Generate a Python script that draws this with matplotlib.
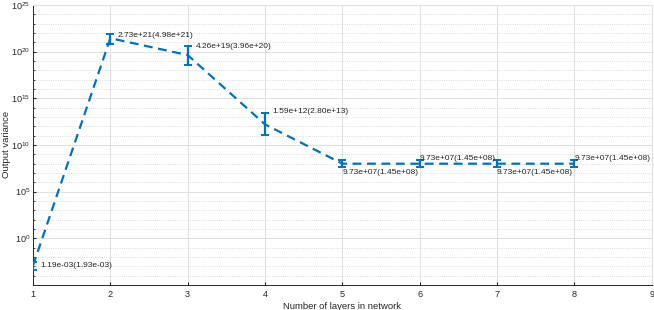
import matplotlib.pyplot as plt
import numpy as np
from matplotlib.ticker import FixedLocator, NullFormatter

plt.rcParams['font.family'] = ['Liberation Sans', 'DejaVu Sans']

layers = [1, 2, 3, 4, 5, 6, 7, 8]
mean_var = [1.19e-03, 2.73e+21, 4.26e+19, 1.59e+12, 9.73e+07, 9.73e+07, 9.73e+07, 9.73e+07]
std_var = [1.93e-03, 4.98e+21, 3.96e+20, 2.80e+13, 1.45e+08, 1.45e+08, 1.45e+08, 1.45e+08]
# lower ends of the bars as drawn
low_var = [3.7e-04, 7.2e+20, 4.0e+18, 1.2e+11, 4.0e+07, 4.0e+07, 4.0e+07, 4.0e+07]

blue = '#0072BD'

fig = plt.figure(figsize=(6.54, 3.10), dpi=100)
ax = fig.add_axes([0.0505, 0.081, 0.946, 0.903])

mean = np.array(mean_var)
upper = mean + np.array(std_var)
lower = np.array(low_var)
yerr = [mean - lower, upper - mean]

ax.errorbar(layers, mean, yerr=yerr, color=blue, linestyle='--', linewidth=1.6,
            dashes=(4, 2.5), elinewidth=1.6, capsize=2.8, capthick=1.4, zorder=3)

# label offsets in points (dx, dy)
offsets = [(5.5, 0), (5.5, 2), (5.5, 6), (5.5, 9), (0, -6.5), (0, 4), (0, -6.5), (0, 4)]
for x, m, s, (dx, dy) in zip(layers, mean_var, std_var, offsets):
    ax.annotate(f"{m:.2e}({s:.2e})", (x, m), xytext=(dx, dy), textcoords='offset points',
                fontsize=6.0, color='#262626', va='center', ha='left')

ax.set_yscale('log')
ax.set_xlim(1, 9)
ax.set_ylim(1e-5, 1e25)
ax.set_xticks(range(1, 10))
ax.yaxis.set_major_locator(FixedLocator([10.0**k for k in range(0, 26, 5)]))
ax.yaxis.set_minor_locator(FixedLocator([10.0**k for k in range(-5, 26) if k % 5 != 0]))
ax.yaxis.set_minor_formatter(NullFormatter())

ax.grid(True, which='major', color='#e0e0e0', linewidth=0.7)
ax.grid(True, which='minor', axis='y', color='#d0d0d0', linewidth=0.6, linestyle=':')
ax.set_axisbelow(True)

for side in ['top', 'right']:
    ax.spines[side].set_color('#e0e0e0')
for side in ['left', 'bottom']:
    ax.spines[side].set_color('#262626')
    ax.spines[side].set_linewidth(0.7)

ax.tick_params(which='both', direction='in', labelsize=6.6, colors='#262626', length=2.5)
ax.tick_params(axis='y', pad=2)
ax.tick_params(which='minor', length=1.5)

ax.set_xlabel('Number of layers in network', fontsize=6.8, color='#262626', labelpad=2)
ax.set_ylabel('Output variance', fontsize=6.8, color='#262626')
ax.yaxis.set_label_coords(-0.036, 0.5)

fig.savefig('out.png', dpi=100)
